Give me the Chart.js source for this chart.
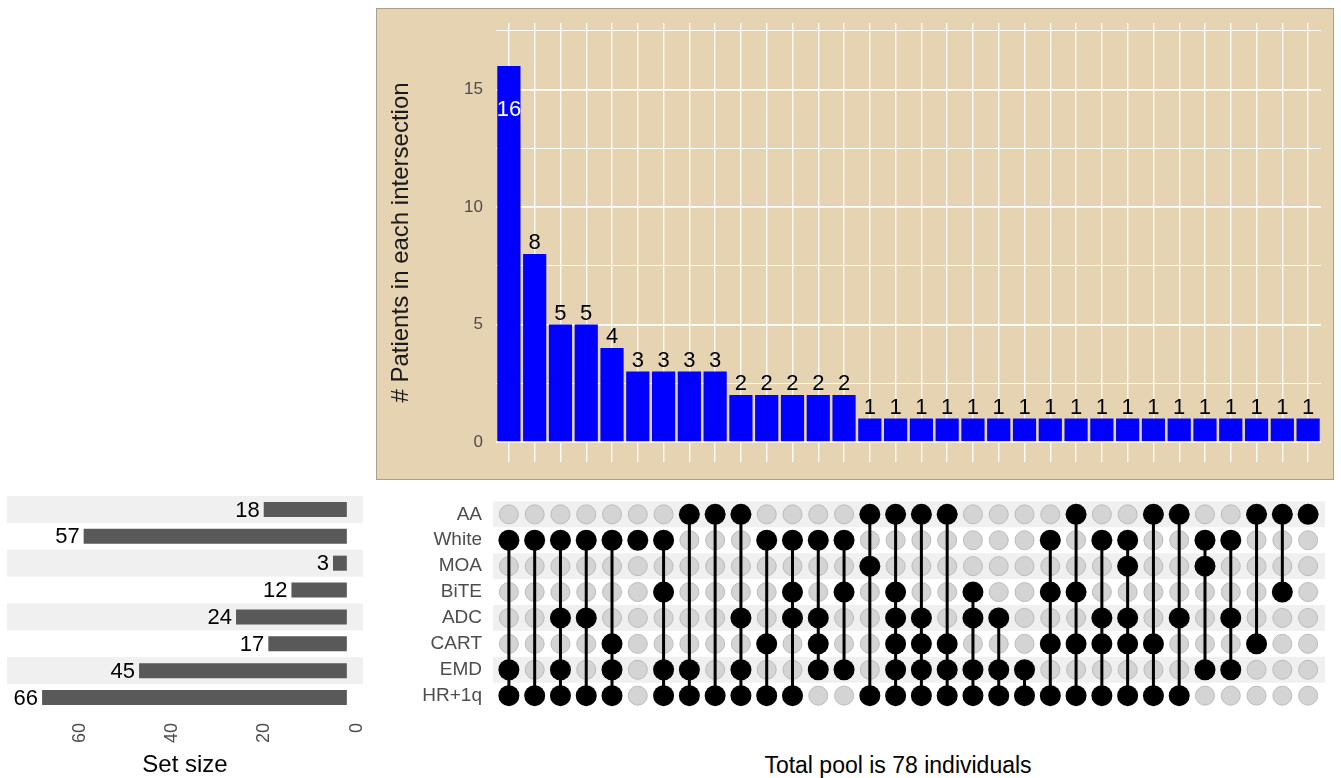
<!DOCTYPE html>
<html>
<head>
<meta charset="utf-8">
<script src="https://cdn.jsdelivr.net/npm/chart.js@4.4.0/dist/chart.umd.min.js"></script>
<style>
  html, body { margin: 0; padding: 0; background: #ffffff; width: 1341px; height: 778px; overflow: hidden; }
  body { position: relative; font-family: "Liberation Sans", Arial, sans-serif; }
  .panel { position: absolute; }
  #topFrame { left: 376px; top: 8px; width: 958px; height: 472px; box-sizing: border-box;
              background: #E5D3B2; border: 1px solid #A7A093; }
  #topChart { position: absolute; left: 376px; top: 8px; }
  #matrixChart { position: absolute; left: 376px; top: 490px; }
  #sizeChart { position: absolute; left: 0px; top: 490px; }
  #poolNote { position: absolute; left: 698px; top: 751px; width: 400px; text-align: center;
              font-size: 23px; color: #000; line-height: 28px; }
</style>
</head>
<body>
<div class="panel" id="topFrame"></div>
<canvas id="topChart" width="958" height="472"></canvas>
<canvas id="sizeChart" width="376" height="288"></canvas>
<canvas id="matrixChart" width="958" height="230"></canvas>
<div id="poolNote">Total pool is 78 individuals</div>

<script>
// ---- data ----
const setNames = ['AA', 'White', 'MOA', 'BiTE', 'ADC', 'CART', 'EMD', 'HR+1q'];
const setSizes = [18, 57, 3, 12, 24, 17, 45, 66];
const setSizeTicks = [0, 20, 40, 60];

const intersectionCounts = [16, 8, 5, 5, 4, 3, 3, 3, 3, 2, 2, 2, 2, 2,
  1, 1, 1, 1, 1, 1, 1, 1, 1, 1, 1, 1, 1, 1, 1, 1, 1, 1];

// which sets make up each intersection column, left to right
const membership = [
  ['White', 'EMD', 'HR+1q'],
  ['White', 'HR+1q'],
  ['White', 'ADC', 'EMD', 'HR+1q'],
  ['White', 'ADC', 'HR+1q'],
  ['White', 'CART', 'EMD', 'HR+1q'],
  ['White'],
  ['White', 'BiTE', 'EMD', 'HR+1q'],
  ['AA', 'EMD', 'HR+1q'],
  ['AA', 'HR+1q'],
  ['AA', 'ADC', 'EMD', 'HR+1q'],
  ['White', 'CART', 'HR+1q'],
  ['White', 'BiTE', 'ADC', 'HR+1q'],
  ['White', 'ADC', 'CART', 'EMD'],
  ['White', 'BiTE', 'EMD'],
  ['AA', 'MOA', 'HR+1q'],
  ['AA', 'BiTE', 'ADC', 'CART', 'EMD', 'HR+1q'],
  ['AA', 'ADC', 'CART', 'EMD', 'HR+1q'],
  ['AA', 'CART', 'EMD', 'HR+1q'],
  ['BiTE', 'ADC', 'EMD', 'HR+1q'],
  ['ADC', 'EMD', 'HR+1q'],
  ['EMD', 'HR+1q'],
  ['White', 'BiTE', 'CART', 'HR+1q'],
  ['AA', 'BiTE', 'CART', 'HR+1q'],
  ['White', 'ADC', 'CART', 'HR+1q'],
  ['White', 'MOA', 'ADC', 'CART', 'HR+1q'],
  ['AA', 'CART', 'HR+1q'],
  ['AA', 'ADC', 'HR+1q'],
  ['White', 'MOA', 'EMD'],
  ['White', 'ADC', 'EMD'],
  ['AA', 'CART'],
  ['AA', 'BiTE'],
  ['AA']
];
const countTicks = [0, 2.5, 5, 7.5, 10, 12.5, 15, 17.5];
const countTitle = '# Patients in each intersection';
const sizeTitle = 'Set size';

const intersectionIds = membership.map(m => m.join(' & '));

Chart.defaults.font.family = '"Liberation Sans", Arial, sans-serif';
Chart.defaults.animation = false;
Chart.defaults.responsive = false;
Chart.defaults.devicePixelRatio = 1;
Chart.defaults.plugins.legend.display = false;
Chart.defaults.plugins.tooltip.enabled = false;

// ---- intersection size bars ----
const countLabels = {
  id: 'countLabels',
  afterDatasetsDraw(chart) {
    const { ctx } = chart;
    const data = chart.data.datasets[0].data;
    const top = Math.max(...data);
    ctx.save();
    ctx.font = '22px "Liberation Sans", Arial, sans-serif';
    ctx.textAlign = 'center';
    chart.getDatasetMeta(0).data.forEach((bar, i) => {
      const txt = String(data[i]);
      if (data[i] === top) {
        ctx.fillStyle = '#ffffff';
        ctx.textBaseline = 'middle';
        ctx.fillText(txt, bar.x, bar.y + 44);
      } else {
        ctx.fillStyle = '#000000';
        ctx.textBaseline = 'alphabetic';
        ctx.fillText(txt, bar.x, bar.y - 5);
      }
    });
    ctx.restore();
  }
};

new Chart(document.getElementById('topChart'), {
  type: 'bar',
  data: {
    labels: intersectionIds,
    datasets: [{
      data: intersectionCounts,
      backgroundColor: '#0000FF',
      borderWidth: 0,
      barPercentage: 0.9,
      categoryPercentage: 1
    }]
  },
  options: {
    layout: { padding: { left: 0, right: 13, top: 15, bottom: 18 }, autoPadding: false },
    scales: {
      x: {
        grid: { offset: false, color: 'rgba(255,255,255,0.9)', lineWidth: 1.4, drawTicks: false },
        border: { display: false },
        ticks: { display: false },
        afterFit: s => { s.height = 0; }
      },
      y: {
        min: -0.85,
        max: 17.83,
        afterBuildTicks: s => { s.ticks = countTicks.map(v => ({ value: v })); },
        ticks: {
          callback: v => (v % 5 === 0 ? String(v) : ''),
          color: '#4D4D4D',
          font: { size: 17 },
          padding: 0
        },
        grid: {
          color: '#ffffff',
          lineWidth: c => (c.tick && c.tick.value % 5 === 0 ? 1.7 : 0.9),
          drawTicks: true,
          tickLength: 13,
          tickColor: 'rgba(0,0,0,0)'
        },
        border: { display: false },
        title: {
          display: true,
          text: countTitle,
          color: '#1A1A1A',
          font: { size: 24 },
          padding: { top: 11, bottom: 0 }
        },
        afterFit: s => { s.width = 120; }
      }
    }
  },
  plugins: [countLabels]
});

// ---- membership matrix ----
const rowBands = {
  id: 'rowBands',
  beforeDatasetsDraw(chart, args, opts) {
    const { ctx, chartArea } = chart;
    const y = chart.scales.y;
    const h = (chartArea.bottom - chartArea.top) / setNames.length;
    ctx.save();
    ctx.fillStyle = '#F0F0F0';
    setNames.forEach((s, i) => {
      if (i % 2 === 0) {
        const cy = y.getPixelForValue(i);
        ctx.fillRect(chartArea.left + opts.left, cy - h / 2, chartArea.right - chartArea.left + opts.right - opts.left, h);
      }
    });
    ctx.restore();
  }
};

const emptyCells = [];
setNames.forEach(s => intersectionIds.forEach((id, c) => emptyCells.push({ x: c + 1, y: s })));
const filledCells = [];
membership.forEach((m, c) => m.forEach(s => filledCells.push({ x: c + 1, y: s })));

const linkSets = [];
membership.forEach((m, c) => {
  if (m.length > 1) {
    const idx = m.map(s => setNames.indexOf(s));
    linkSets.push({
      type: 'line',
      data: [{ x: c + 1, y: setNames[Math.min(...idx)] }, { x: c + 1, y: setNames[Math.max(...idx)] }],
      borderColor: '#000000',
      borderWidth: 3,
      pointRadius: 0,
      order: 1
    });
  }
});

new Chart(document.getElementById('matrixChart'), {
  type: 'scatter',
  data: {
    datasets: [
      { data: filledCells, pointRadius: 10.5, pointBackgroundColor: '#000000', pointBorderWidth: 0, order: 0 },
      ...linkSets,
      { data: emptyCells, pointRadius: 9.5, pointBackgroundColor: '#D4D4D4', pointBorderColor: '#BBBBBB', pointBorderWidth: 1, order: 2 }
    ]
  },
  options: {
    layout: { padding: { left: 0, right: 13, top: 6, bottom: 9 }, autoPadding: false },
    scales: {
      x: { type: 'linear', min: 0.5, max: 32.5, display: false },
      y: {
        type: 'category',
        labels: setNames,
        offset: true,
        grid: { display: false, drawTicks: true, tickLength: 14, tickColor: 'rgba(0,0,0,0)' },
        border: { display: false },
        ticks: { color: '#4D4D4D', font: { size: 19 }, padding: 0 },
        afterFit: s => { s.width = 120; }
      }
    },
    plugins: { rowBands: { left: -3, right: 4 } }
  },
  plugins: [rowBands]
});

// ---- set size bars ----
const sizeLabels = {
  id: 'sizeLabels',
  afterDatasetsDraw(chart) {
    const { ctx } = chart;
    const data = chart.data.datasets[0].data;
    ctx.save();
    ctx.font = '22px "Liberation Sans", Arial, sans-serif';
    ctx.fillStyle = '#000000';
    ctx.textAlign = 'right';
    ctx.textBaseline = 'middle';
    chart.getDatasetMeta(0).data.forEach((bar, i) => {
      ctx.fillText(String(data[i]), bar.x - 4, bar.y + 1);
    });
    ctx.restore();
  }
};

new Chart(document.getElementById('sizeChart'), {
  type: 'bar',
  data: {
    labels: setNames,
    datasets: [{
      data: setSizes,
      backgroundColor: '#595959',
      borderWidth: 0,
      barPercentage: 0.56,
      categoryPercentage: 1
    }]
  },
  options: {
    indexAxis: 'y',
    layout: { padding: { left: 7, right: 13, top: 6, bottom: 0 }, autoPadding: false },
    scales: {
      x: {
        reverse: true,
        min: -3.5,
        max: 73.6,
        afterBuildTicks: s => { s.ticks = setSizeTicks.map(v => ({ value: v })); },
        ticks: {
          autoSkip: false,
          minRotation: 90,
          maxRotation: 90,
          color: '#4D4D4D',
          font: { size: 18 },
          padding: 12,
          labelOffset: 10
        },
        grid: { display: false, drawTicks: false },
        border: { display: false },
        title: { display: true, text: sizeTitle, color: '#000000', font: { size: 24 }, padding: { top: 0, bottom: -2 } },
        afterFit: s => { s.height = 67; }
      },
      y: { display: false }
    },
    plugins: { rowBands: { left: 0, right: 0 } }
  },
  plugins: [rowBands, sizeLabels]
});
</script>
</body>
</html>
